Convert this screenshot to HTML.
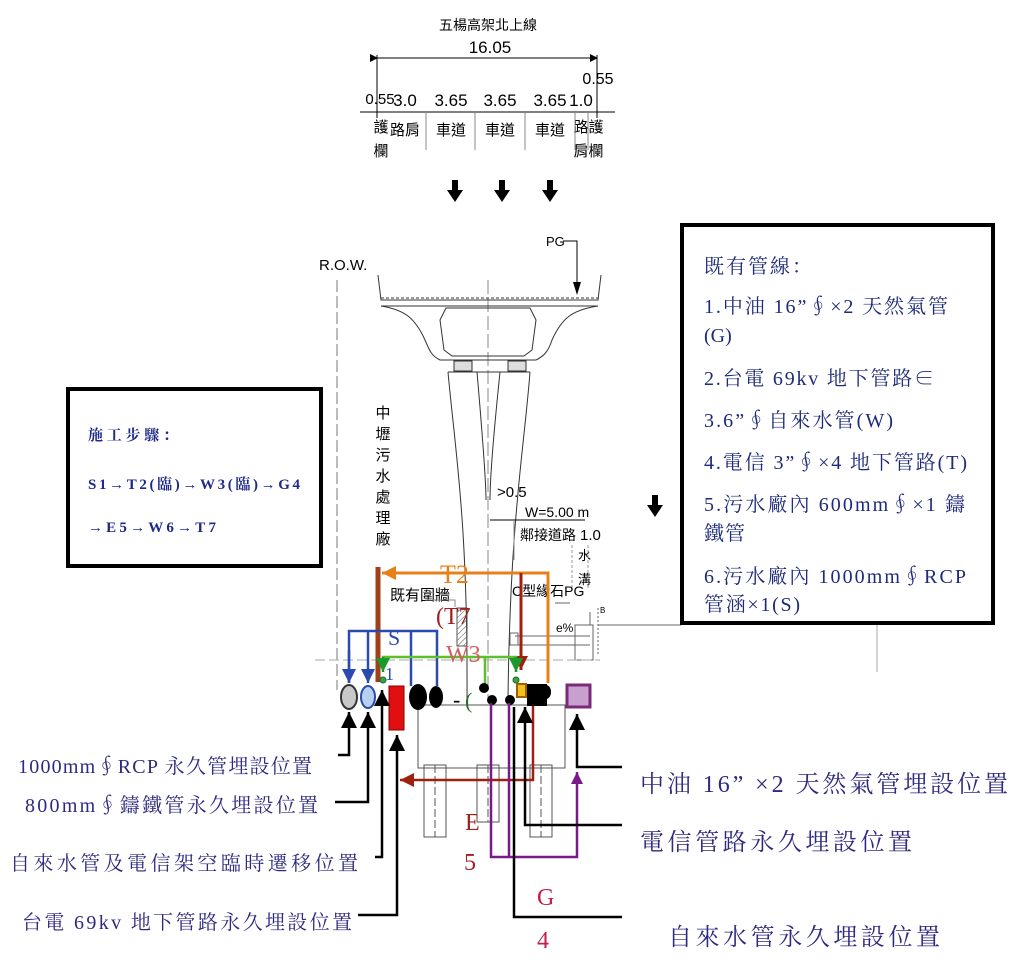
<!DOCTYPE html>
<html><head><meta charset="utf-8"><style>
html,body{margin:0;padding:0;background:#fff}
svg{display:block}
.c{font-family:"Liberation Sans","Noto Sans CJK TC",sans-serif}
.s{font-family:"Liberation Serif","Noto Serif CJK SC",serif}
</style></head><body>
<svg width="1024" height="974" viewBox="0 0 1024 974" xmlns="http://www.w3.org/2000/svg">
<defs>
<marker id="ab" markerWidth="8" markerHeight="8" refX="7" refY="4" orient="auto" markerUnits="userSpaceOnUse"><path d="M0,0 L8,4 L0,8z" fill="#000"/></marker>
<marker id="ak" viewBox="0 0 10 10" markerWidth="16" markerHeight="20" refX="10" refY="5" orient="auto" markerUnits="userSpaceOnUse"><path d="M0,0 L10,5 L0,10z" fill="#000"/></marker>
<marker id="abl" viewBox="0 0 10 10" markerWidth="14" markerHeight="16" refX="10" refY="5" orient="auto" markerUnits="userSpaceOnUse"><path d="M0,0 L10,5 L0,10z" fill="#2a4ab0"/></marker>
<marker id="agr" viewBox="0 0 10 10" markerWidth="14" markerHeight="16" refX="10" refY="5" orient="auto" markerUnits="userSpaceOnUse"><path d="M0,0 L10,5 L0,10z" fill="#1a9a2a"/></marker>
<marker id="aor" viewBox="0 0 10 10" markerWidth="14" markerHeight="16" refX="10" refY="5" orient="auto" markerUnits="userSpaceOnUse"><path d="M0,0 L10,5 L0,10z" fill="#e8801a"/></marker>
<marker id="ard" viewBox="0 0 10 10" markerWidth="14" markerHeight="16" refX="10" refY="5" orient="auto" markerUnits="userSpaceOnUse"><path d="M0,0 L10,5 L0,10z" fill="#a02010"/></marker>
<marker id="apu" viewBox="0 0 10 10" markerWidth="12" markerHeight="14" refX="10" refY="5" orient="auto" markerUnits="userSpaceOnUse"><path d="M0,0 L10,5 L0,10z" fill="#7a1a8a"/></marker>
<pattern id="hat" width="4" height="4" patternUnits="userSpaceOnUse" patternTransform="rotate(45)"><line x1="0" y1="0" x2="0" y2="4" stroke="#555" stroke-width="1"/></pattern>
</defs>

<g class="c" fill="#000" font-size="15" text-anchor="middle">
<text x="488" y="30" font-size="14">五楊高架北上線</text>
<text x="490" y="53" font-size="17">16.05</text>
<text x="380" y="104" font-size="15">0.55</text>
<text x="405" y="106" font-size="17">3.0</text>
<text x="451" y="106" font-size="17">3.65</text>
<text x="500" y="106" font-size="17">3.65</text>
<text x="550" y="106" font-size="17">3.65</text>
<text x="581" y="106" font-size="17">1.0</text>
<text x="598" y="84" font-size="16">0.55</text>
<text x="405" y="135">路肩</text>
<text x="451" y="135">車道</text>
<text x="500" y="135">車道</text>
<text x="550" y="135">車道</text>
<text x="381" y="132">護</text><text x="381" y="156">欄</text>
<text x="581" y="132">路</text><text x="581" y="156">肩</text>
<text x="596" y="132">護</text><text x="596" y="156">欄</text>
</g>
<g stroke="#000" stroke-width="1" fill="none">
<line x1="377" y1="58" x2="597" y2="58" marker-start="url(#ab)" marker-end="url(#ab)"/>
<line x1="377" y1="55" x2="377" y2="118"/>
<line x1="597" y1="55" x2="597" y2="118"/>
<line x1="360" y1="112" x2="615" y2="112"/>
<line x1="426" y1="112" x2="426" y2="150" stroke="#888"/>
<line x1="475" y1="112" x2="475" y2="150" stroke="#888"/>
<line x1="525" y1="112" x2="525" y2="150" stroke="#888"/>
<line x1="575" y1="112" x2="575" y2="150" stroke="#888"/>
<line x1="588" y1="112" x2="588" y2="150" stroke="#888"/>
</g>
<g fill="#000">
<path d="M452,180h6v10h5l-8,12l-8,-12h5z"/>
<path d="M499,180h6v10h5l-8,12l-8,-12h5z"/>
<path d="M547,180h6v10h5l-8,12l-8,-12h5z"/>
<path d="M652,495h6v10h5l-8,12l-8,-12h5z"/>
</g>

<text x="546" y="246" class="c" font-size="13">PG</text>
<path d="M563,241 H577 V290" stroke="#000" fill="none"/>
<path d="M573,282 L577,295 L581,282z"/>
<text x="319" y="270" class="c" font-size="15">R.O.W.</text>
<line x1="337" y1="280" x2="337" y2="690" stroke="#777" stroke-dasharray="12,4"/>
<line x1="488" y1="280" x2="488" y2="700" stroke="#888" stroke-dasharray="14,4"/>

<g stroke="#333" stroke-width="1" fill="none">
<path d="M378,275 L381,300 L598,300 L601,275"/>
<line x1="381" y1="298" x2="598" y2="298" stroke-dasharray="3,2"/>
<path d="M381,306 C405,310 415,318 425,340 C430,352 432,356 440,360 L536,360 C544,356 548,352 552,340 C562,318 572,310 598,306"/>
<line x1="381" y1="306" x2="598" y2="306"/>
<path d="M446,308 L530,308 L536,320 L532,350 L524,356 L452,356 L444,350 L440,320z"/>
<rect x="454" y="361" width="18" height="10" fill="#ddd"/>
<rect x="508" y="361" width="18" height="10" fill="#ddd"/>
<path d="M448,372 L530,372"/>
<path d="M448,372 C455,450 468,520 467,700"/>
<path d="M530,372 C524,450 510,520 508,700"/>
<path d="M477,372 C482,430 486,480 486,500"/>
<path d="M500,372 C494,430 490,480 490,500"/>
</g>

<g class="c" font-size="15" fill="#000" text-anchor="middle">
<text x="383" y="418">中</text><text x="383" y="439">壢</text><text x="383" y="460">污</text>
<text x="383" y="481">水</text><text x="383" y="502">處</text><text x="383" y="523">理</text><text x="383" y="544">廠</text>
</g>
<text x="497" y="497" class="c" font-size="15">&gt;0.5</text>
<text x="525" y="517" class="c" font-size="14">W=5.00 m</text>
<line x1="490" y1="520" x2="585" y2="520" stroke="#000"/>
<line x1="514" y1="520" x2="514" y2="560" stroke="#888"/>
<text x="520" y="540" class="c" font-size="14">鄰接道路</text>
<text x="580" y="540" class="c" font-size="15">1.0</text>
<text x="578" y="560" class="c" font-size="13">水</text>
<text x="578" y="584" class="c" font-size="13">溝</text>
<line x1="572" y1="545" x2="572" y2="590" stroke="#999" stroke-dasharray="3,2"/>
<line x1="588" y1="545" x2="588" y2="590" stroke="#999" stroke-dasharray="3,2"/>

<g stroke="#666" fill="none" stroke-width="1">
<text x="512" y="596" class="c" font-size="14" fill="#000" stroke="none">C型緣石PG</text>
<path d="M555,603 H570"/>
<rect x="510" y="633" width="8" height="12"/>
<line x1="515" y1="636" x2="590" y2="636"/>
<line x1="515" y1="645" x2="590" y2="645"/>
<rect x="575" y="625" width="18" height="35"/>
<line x1="590" y1="625" x2="590" y2="612"/>
<line x1="598" y1="608" x2="598" y2="655" stroke-dasharray="2,2"/>
<line x1="598" y1="625" x2="681" y2="625"/>
<line x1="877" y1="625" x2="877" y2="672" stroke="#aaa"/>
<line x1="315" y1="660" x2="600" y2="660" stroke="#aaa" stroke-dasharray="10,4"/>
</g>
<text x="556" y="632" class="c" font-size="12">e%</text>
<text x="600" y="613" class="c" font-size="8">B</text>

<rect x="68" y="389" width="253" height="177" fill="none" stroke="#000" stroke-width="4"/>
<g class="s" font-weight="bold" font-size="15" fill="#1e2a8a">
<text x="88" y="440" textLength="90">施工步驟：</text>
<text x="88" y="489" textLength="212">S1→T2(臨)→W3(臨)→G4</text>
<text x="88" y="532" textLength="128">→E5→W6→T7</text>
</g>

<rect x="682" y="225" width="311" height="398" fill="none" stroke="#000" stroke-width="4"/>
<g class="s" font-size="20" fill="#1e2a7a">
<text x="704" y="273" textLength="108">既有管線：</text>
<text x="704" y="313" textLength="244">1.中油 16”∮×2 天然氣管</text>
<text x="704" y="342">(G)</text>
<text x="704" y="385" textLength="230">2.台電 69kv 地下管路∈</text>
<text x="704" y="427" textLength="189">3.6”∮自來水管(W)</text>
<text x="704" y="469" textLength="263">4.電信 3”∮×4 地下管路(T)</text>
<text x="704" y="511" textLength="261">5.污水廠內 600mm∮×1 鑄</text>
<text x="704" y="540" textLength="41">鐵管</text>
<text x="704" y="583" textLength="262">6.污水廠內 1000mm∮RCP</text>
<text x="704" y="611" textLength="96">管涵×1(S)</text>
</g>

<g stroke="#555" fill="none" stroke-width="1">
<rect x="418" y="705" width="147" height="63"/>
<rect x="424" y="765" width="22" height="72"/>
<rect x="477" y="765" width="22" height="57"/>
<rect x="530" y="765" width="22" height="72"/>
<line x1="435" y1="765" x2="435" y2="837" stroke-dasharray="8,3"/>
<line x1="488" y1="765" x2="488" y2="822" stroke-dasharray="8,3"/>
<line x1="541" y1="765" x2="541" y2="837" stroke-dasharray="8,3"/>
</g>

<line x1="378" y1="567" x2="378" y2="682" stroke="#a0401a" stroke-width="5"/>
<path d="M548,683 V573 H382" stroke="#e8801a" stroke-width="3" fill="none" marker-end="url(#aor)"/>
<text x="440" y="583" class="s" font-size="26" fill="#e8801a">T2</text>
<path d="M521,573 V670" stroke="#a02010" stroke-width="3" fill="none" marker-end="url(#ard)"/>
<path d="M533,705 V780 H400" stroke="#a02010" stroke-width="2.5" fill="none" marker-end="url(#ard)"/>
<g stroke="#2a4ab0" stroke-width="2.5" fill="none">
<path d="M349,683 V631 H437 V686"/>
<line x1="349" y1="650" x2="349" y2="683" marker-end="url(#abl)"/>
<line x1="368" y1="631" x2="368" y2="683" marker-end="url(#abl)"/>
<line x1="411" y1="631" x2="411" y2="686"/>
</g>
<text x="388" y="645" class="s" font-size="22" fill="#2a4ab0">S</text>
<g stroke="#5cc02a" stroke-width="2.5" fill="none">
<path d="M383,670 V657 H516 V668"/>
<line x1="485" y1="657" x2="485" y2="684"/>
</g>
<path d="M383,657 V672" stroke="#1a9a2a" stroke-width="2.5" marker-end="url(#agr)"/>
<path d="M516,657 V672" stroke="#1a9a2a" stroke-width="2.5" marker-end="url(#agr)"/>
<text x="390" y="600" class="c" font-size="15" fill="#000">既有圍牆</text>
<path d="M425,600 H455 V607" stroke="#888" fill="none"/>
<rect x="457" y="608" width="10" height="38" fill="url(#hat)" stroke="#555"/>
<text x="436" y="624" class="s" font-size="24" fill="#a02020">(T7</text>
<text x="446" y="662" class="s" font-size="24" fill="#d06060">W3</text>
<text x="385" y="680" class="s" font-size="18" fill="#2a4ab0">1</text>

<ellipse cx="349" cy="697" rx="8" ry="12" fill="#c8c8c8" stroke="#333" stroke-width="2"/>
<ellipse cx="368" cy="697" rx="7" ry="11" fill="#b8d0f0" stroke="#2a4ab0" stroke-width="2"/>
<circle cx="383" cy="680" r="3" fill="#3aa04a" stroke="#1a6a2a"/>
<rect x="389" y="686" width="15" height="44" fill="#e01010" stroke="#800"/>
<ellipse cx="418" cy="697" rx="9" ry="13" fill="#000"/>
<ellipse cx="436" cy="697" rx="7" ry="11" fill="#000"/>
<text x="453" y="707" class="s" font-size="22" fill="#000">-</text>
<text x="465" y="708" class="s" font-size="22" fill="#2a6a2a">(</text>
<circle cx="484" cy="688" r="5" fill="#000"/>
<circle cx="492" cy="700" r="5" fill="#000"/>
<circle cx="510" cy="700" r="5" fill="#000"/>
<circle cx="516" cy="680" r="3" fill="#3aa04a" stroke="#1a6a2a"/>
<rect x="517" y="684" width="9" height="13" fill="#f0c020" stroke="#a06000" stroke-width="2"/>
<rect x="527" y="684" width="20" height="22" fill="#000"/>
<ellipse cx="546" cy="692" rx="5" ry="7" fill="#000"/>
<rect x="567" y="685" width="23" height="22" fill="#c8a0d0" stroke="#7a2a7a" stroke-width="3"/>

<g stroke="#7a1a8a" stroke-width="2.5" fill="none">
<path d="M491,703 V857 H577 V772" marker-end="url(#apu)"/>
<line x1="509" y1="703" x2="509" y2="857"/>
</g>

<g stroke="#000" stroke-width="2.5" fill="none">
<path d="M338,755 H349 V712" marker-end="url(#ak)"/>
<path d="M335,802 H368 V712" marker-end="url(#ak)"/>
<path d="M375,857 H382 V690" marker-end="url(#ak)"/>
<path d="M358,915 H397 V735" marker-end="url(#ak)"/>
<path d="M622,767 H577 V714" marker-end="url(#ak)"/>
<path d="M622,825 H525 V707" marker-end="url(#ak)"/>
<path d="M622,917 H514 V707"/>
</g>

<g class="s" font-size="20" fill="#2e2a80">
<text x="18" y="773" textLength="294">1000mm∮RCP 永久管埋設位置</text>
<text x="25" y="812" textLength="293">800mm∮鑄鐵管永久埋設位置</text>
<text x="10" y="870" textLength="348">自來水管及電信架空臨時遷移位置</text>
<text x="22" y="929" textLength="330">台電 69kv 地下管路永久埋設位置</text>
</g>
<g class="s" font-size="24" fill="#2e2a80">
<text x="640" y="792" textLength="368">中油 16” ×2 天然氣管埋設位置</text>
<text x="640" y="850" textLength="272">電信管路永久埋設位置</text>
<text x="668" y="945" textLength="272">自來水管永久埋設位置</text>
</g>
<g class="s" font-size="24">
<text x="465" y="830" fill="#a02020">E</text>
<text x="464" y="870" fill="#a02020">5</text>
<text x="537" y="905" fill="#c0204a">G</text>
<text x="537" y="948" fill="#c0204a">4</text>
</g>
</svg>
</body></html>
